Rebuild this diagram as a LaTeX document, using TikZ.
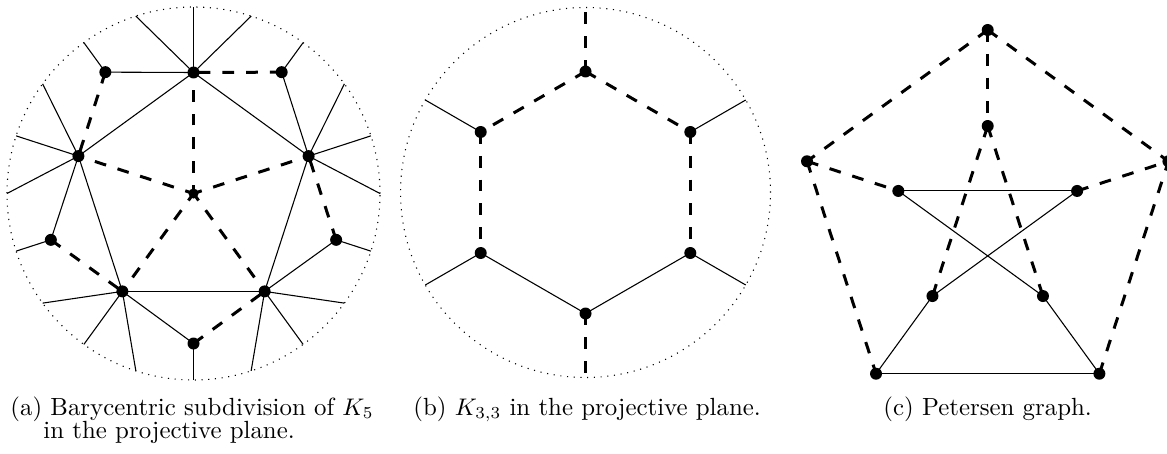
\documentclass[tikz,border=0pt]{standalone}
\usetikzlibrary{shapes.geometric}
\pgfdeclarelayer{bg}
\pgfsetlayers{bg,main}
\begin{document}
\begin{tikzpicture}[x=0.4167pt,y=-0.4167pt,
  dot/.style={circle,fill,inner sep=0pt,minimum size=5pt},
  cdot/.style={circle,fill,inner sep=0pt,minimum size=4.2pt},
  sol/.style={line width=0.45pt},
  dsh/.style={line width=1.25pt,dash pattern=on 4.9pt off 5pt},
  cdsh/.style={line width=1.25pt,dash pattern=on 4.9pt off 5pt,dash phase=1.3pt},
  bnd/.style={line width=0.45pt,dash pattern=on 0.45pt off 2.35pt},
  captxt/.style={anchor=base west,inner sep=0pt,font=\fontsize{10.35}{12.4}\selectfont}]
\useasboundingbox (0,0) rectangle (1167,453);

% ---------- (a) ----------
\begin{scope}[shift={(193.5,193.5)},yscale=-1]
  \draw[bnd] (0,0) circle (186.5);
  \node[cdot] (aC) at (0,0) {};
  \foreach \i in {0,...,4} {
    \node[dot] (aP\i) at (90+72*\i:121) {};
    \node[dot] (aS\i) at (126+72*\i:150) {};
    \coordinate (aEm\i) at (72+72*\i:186.5);
    \coordinate (aEc\i) at (90+72*\i:186.5);
    \coordinate (aEp\i) at (108+72*\i:186.5);
    \coordinate (aEs\i) at (126+72*\i:186.5);
  }
  \begin{pgfonlayer}{bg}
  \foreach \i [evaluate=\i as \j using {int(mod(\i+1,5))}] in {0,...,4} {
    \draw[sol] (aP\i.center) -- (aP\j.center);
    \draw[sol] (aP\i.center) -- (aS\i.center);
    \draw[dsh] (aS\i.center) -- (aP\j.center);
    \draw[cdsh] (aC.center) -- (aP\i.center);
    \draw[sol] (aP\i.center) -- (aEm\i);
    \draw[sol] (aP\i.center) -- (aEc\i);
    \draw[sol] (aP\i.center) -- (aEp\i);
    \draw[sol] (aS\i.center) -- (aEs\i);
  }
  \end{pgfonlayer}
\end{scope}

% ---------- (b) ----------
\begin{scope}[shift={(585.5,192.5)},yscale=-1]
  \draw[bnd] (0,0) circle (185);
  \foreach \i in {0,...,5} {
    \node[dot] (bH\i) at (90+60*\i:121) {};
    \coordinate (bE\i) at (90+60*\i:185);
  }
  \begin{pgfonlayer}{bg}
  \draw[dsh] (bH0.center) -- (bH1.center);
  \draw[dsh] (bH0.center) -- (bH5.center);
  \draw[dsh] (bH0.center) -- (bE0);
  \draw[dsh] (bH1.center) -- (bH2.center);
  \draw[dsh] (bH5.center) -- (bH4.center);
  \draw[dsh] (bH3.center) -- (bE3);
  \draw[sol] (bH2.center) -- (bH3.center);
  \draw[sol] (bH3.center) -- (bH4.center);
  \draw[sol] (bH1.center) -- (bE1);
  \draw[sol] (bH2.center) -- (bE2);
  \draw[sol] (bH4.center) -- (bE4);
  \draw[sol] (bH5.center) -- (bE5);
  \end{pgfonlayer}
\end{scope}

% ---------- (c) ----------
\begin{scope}[shift={(987.7,220)},yscale=-1]
  \foreach \i in {0,...,4} {
    \node[dot] (cO\i) at (90+72*\i:190) {};
    \node[dot] (cI\i) at (90+72*\i:94) {};
  }
  \begin{pgfonlayer}{bg}
  \draw[dsh] (cO0.center) -- (cO1.center);
  \draw[dsh] (cO0.center) -- (cO4.center);
  \draw[dsh] (cO1.center) -- (cO2.center);
  \draw[dsh] (cO3.center) -- (cO4.center);
  \draw[sol] (cO2.center) -- (cO3.center);
  \draw[dsh] (cO0.center) -- (cI0.center);
  \draw[dsh] (cO1.center) -- (cI1.center);
  \draw[dsh] (cI4.center) -- (cO4.center);
  \draw[sol] (cO2.center) -- (cI2.center);
  \draw[sol] (cO3.center) -- (cI3.center);
  \draw[dsh] (cI0.center) -- (cI2.center);
  \draw[dsh] (cI0.center) -- (cI3.center);
  \draw[sol] (cI1.center) -- (cI4.center);
  \draw[sol] (cI1.center) -- (cI3.center);
  \draw[sol] (cI4.center) -- (cI2.center);
  \end{pgfonlayer}
\end{scope}

% ---------- captions ----------
\node[captxt] (capa1) at (10,415) {(a) Barycentric subdivision of $K_5$};
\node[captxt] (capa2) at (43,438) {in the projective plane.};
\node[captxt] (capb) at (413,415) {(b) $K_{3,3}$ in the projective plane.};
\node[captxt] (capc) at (883,415) {(c) Petersen graph.};
\end{tikzpicture}
\end{document}
